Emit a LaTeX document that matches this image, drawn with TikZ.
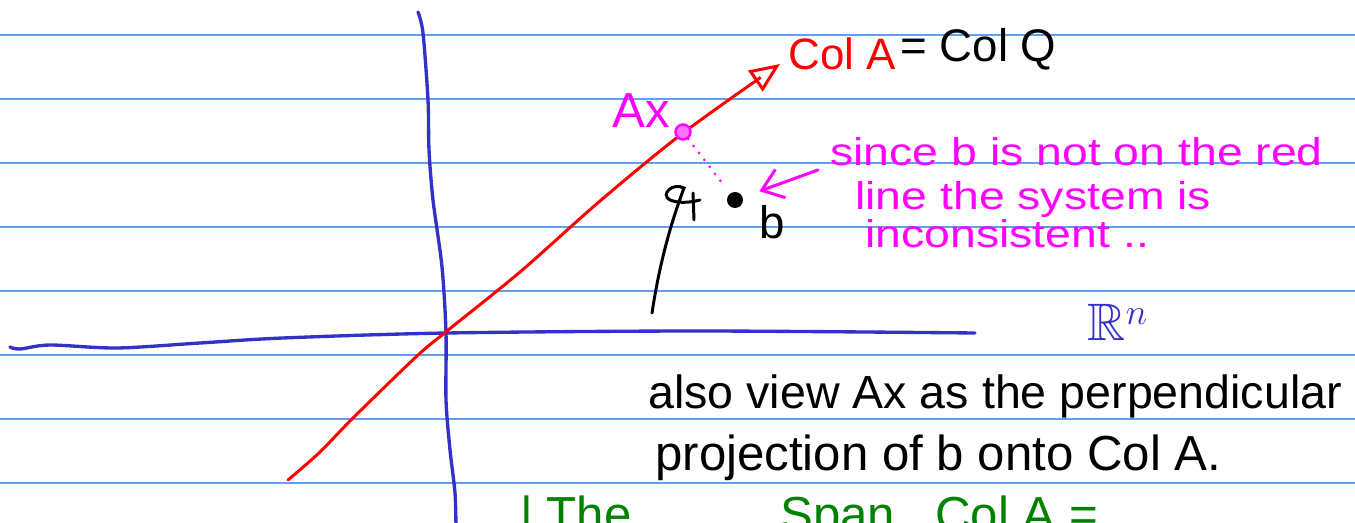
\documentclass[tikz,border=0pt]{standalone}
\usepackage{amsmath,amssymb}
\usepackage{graphicx}
\usepackage{fontspec}
\setmainfont{Liberation Sans}
\usetikzlibrary{shapes,arrows,arrows.meta,positioning,calc}
\definecolor{ruleblue}{RGB}{95,160,245}
\definecolor{axisblue}{RGB}{50,50,200}
\definecolor{penred}{RGB}{255,0,0}
\definecolor{penpink}{RGB}{255,0,255}
\definecolor{pengreen}{RGB}{0,130,0}
\newcommand{\widehand}[1]{\scalebox{1.2}[1]{#1}}

\begin{document}
\begin{tikzpicture}[x=0.02cm, y=-0.02cm,
    rule/.style={ruleblue, line width=0.8pt},
    axis/.style={axisblue, line width=1.9pt, line cap=round},
    pen/.style={line width=1.7pt, line cap=round},
    hand/.style={inner sep=0pt, anchor=base west, font=\fontsize{28}{30}\selectfont},
    note/.style={hand, penpink, font=\fontsize{22}{24}\selectfont}]
\useasboundingbox (0,0) rectangle (1355,523);
\clip (0,0) rectangle (1355,523);
\fill[white] (0,0) rectangle (1355,523);
% ruled paper
\foreach \y in {35,99,...,483}
    \draw[rule] (0,\y) -- (1355,\y);
% axes
\draw[axis] plot[smooth] coordinates {(418,12) (423,33) (428,100) (429,150) (433,200) (442,267) (446,333) (446,400) (450,450) (455,493) (456,530)};
\draw[axis] plot[smooth] coordinates {(10,347) (20,349) (50,345) (117,348) (200,343) (283,338) (447,333) (700,331) (975,333)};
% column space
\draw[pen, penred, -{Triangle[open, length=0.6cm, width=0.5cm, line width=1.7pt]}] plot[smooth] coordinates {(288,480) (320,452) (353,418) (417,356) (447,331) (520,272) (600,201) (683,133) (780,64)};
\node[hand, penred, font=\fontsize{25}{27}\selectfont] (colA) at (788,70) {Col A};
\node[hand, font=\fontsize{26}{28}\selectfont] (colQ) at (900,62) {= Col Q};
% points
\node[circle, fill=penpink!55, draw=penpink, line width=1.4pt, minimum size=0.3cm, inner sep=0pt] (axpt) at (683,132) {};
\node[circle, fill=black, minimum size=0.32cm, inner sep=0pt] (bpt) at (735,200) {};
\node[hand, penpink] (axlbl) at (612,128) {Ax};
\node[hand, anchor=center, font=\fontsize{26}{28}\selectfont] (blbl) at (772,222) {b};
\draw[pen, penpink, dash pattern=on 0pt off 5pt] (axpt) -- ($(bpt)!0.2!(axpt)$);
% note
\node[note] (note1) at (830,166) {\widehand{since b is not on the red}};
\node[note] (note2) at (855,210) {\widehand{line the system is}};
\node[note] (note3) at (865,248) {\widehand{inconsistent ..}};
\coordinate (tail) at (818,170);
\draw[pen, penpink, -{Straight Barb[length=0.4cm, width=0.6cm]}, shorten >=0.35cm] (tail) -- (bpt);
% hook
\coordinate (hookend) at (652,313);
\draw[pen, black] (hookend) .. controls (660,260) and (672,220) .. (684,188) .. controls (672,182) and (660,195) .. (670,200) .. controls (680,204) and (692,202) .. (700,200);
\draw[pen, black] (693,193) -- (694,220);
% space label
\node[hand, axisblue, anchor=center, font=\fontsize{30}{32}\selectfont] (rn) at (1118,322) {$\mathbb{R}^n$};
% remarks
\node[hand, font=\fontsize{26.5}{28}\selectfont] (view1) at (648,408) {also view Ax as the perpendicular};
\node[hand] (view2) at (655,470) {projection of b onto Col A.};
\node[hand, pengreen] (gthe) at (520,531) {| The};
\node[hand, pengreen] (gspan) at (780,531) {Span};
\node[hand, pengreen] (gcol) at (935,531) {Col A =};
\end{tikzpicture}
\end{document}
